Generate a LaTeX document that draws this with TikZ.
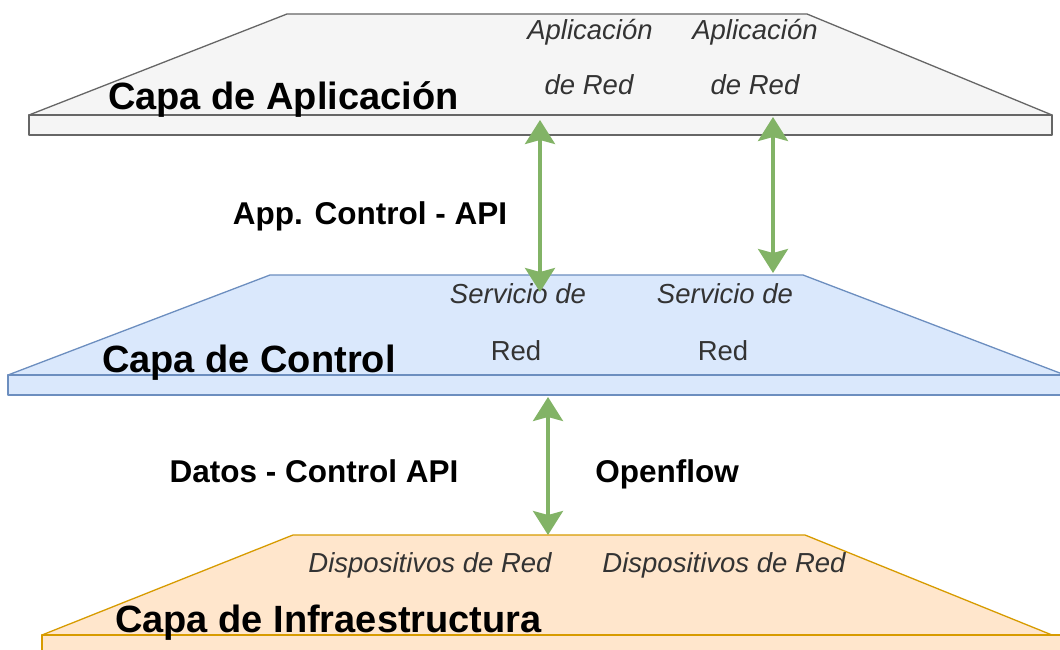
\documentclass[tikz,border=0pt]{standalone}
\usepackage{fontspec}
\setmainfont{Liberation Sans}
\usetikzlibrary{arrows.meta}
\definecolor{appfill}{HTML}{F5F5F5}
\definecolor{appline}{HTML}{666666}
\definecolor{ctlfill}{HTML}{DAE8FC}
\definecolor{ctlline}{HTML}{6C8EBF}
\definecolor{infrafill}{HTML}{FFE6CC}
\definecolor{infraline}{HTML}{D79B00}
\definecolor{linkgreen}{HTML}{82B366}
\definecolor{itemgray}{HTML}{333333}
\begin{document}
\begin{tikzpicture}[x=1pt,y=-1pt,
  layer/.style={line width=1.3pt, line join=round},
  title/.style={font=\fontsize{38}{45}\selectfont\bfseries, anchor=base west, inner sep=0},
  caption/.style={font=\fontsize{31.5}{38}\selectfont\bfseries, anchor=base, inner sep=0},
  item/.style={font=\fontsize{27.5}{33}\selectfont\itshape, text=itemgray, anchor=base, inner sep=0},
  itemup/.style={font=\fontsize{27.5}{33}\selectfont, text=itemgray, anchor=base, inner sep=0},
  link/.style={draw=linkgreen, line width=3.4pt,
    {Stealth[length=24pt,width=30pt,inset=4pt]}-{Stealth[length=24pt,width=30pt,inset=4pt]}}]
\useasboundingbox (0,0) rectangle (1060,650);
\clip (0,0) rectangle (1060,650);

% application layer
\draw[layer, draw=appline, fill=appfill] (287,14) -- (807,14) -- (1052,115) -- (29,115) -- cycle;
\draw[layer, draw=appline, fill=appfill] (29,115) rectangle (1052,135);
% control layer
\draw[layer, draw=ctlline, fill=ctlfill] (270,275) -- (803,275) -- (1065,375) -- (8,375) -- cycle;
\draw[layer, draw=ctlline, fill=ctlfill] (8,375) rectangle (1070,395);
% infrastructure layer
\draw[layer, draw=infraline, fill=infrafill] (293,535) -- (805,535) -- (1052,635) -- (42,635) -- cycle;
\draw[layer, draw=infraline, fill=infrafill] (42,635) rectangle (1070,660);

% layer titles
\node[title] (tapp) at (108,110) {Capa de Aplicación};
\node[title] (tctl) at (102,372) {Capa de Control};
\node[title] (tinf) at (115,632) {Capa de Infraestructura};

% application items
\node[item] (appA) at (590,40) {Aplicación};
\node[item] (appAr) at (589,95) {de Red};
\node[item] (appB) at (755,40) {Aplicación};
\node[item] (appBr) at (755,95) {de Red};

% control services
\node[item] (srvA) at (518,303) {Servicio de};
\node[itemup] (srvAr) at (516,360) {Red};
\node[item] (srvB) at (725,303) {Servicio de};
\node[itemup] (srvBr) at (723,360) {Red};

% infrastructure devices
\node[item] (devA) at (430,572) {Dispositivos de Red};
\node[item] (devB) at (724,572) {Dispositivos de Red};

% interface labels
\node[caption] (apilbl) at (370,224) {App. Control - API};
\node[caption] (sblbl) at (314,482) {Datos - Control API};
\node[caption] (oflbl) at (667,482) {Openflow};

% interface endpoints
\coordinate (a1top) at (540,120);
\coordinate (a1bot) at (540,292);
\coordinate (a2top) at (773,117);
\coordinate (a2bot) at (773,273);
\coordinate (a3top) at (548,397);
\coordinate (a3bot) at (548,535);

\draw[link] (a1top) -- (a1bot);
\draw[link] (a2top) -- (a2bot);
\draw[link] (a3top) -- (a3bot);
\end{tikzpicture}
\end{document}
